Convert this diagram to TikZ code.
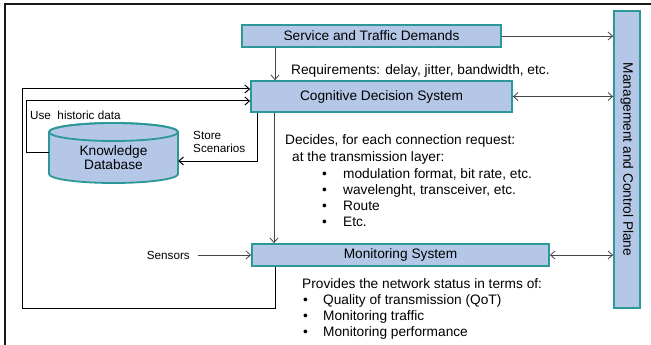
\documentclass[tikz,border=0pt]{standalone}
\usepackage{fontspec}
\setmainfont{Liberation Sans}
\usetikzlibrary{arrows.meta}
\definecolor{boxfill}{RGB}{180,199,231}
\definecolor{boxline}{RGB}{44,152,152}
\definecolor{wirecol}{RGB}{70,70,70}
\newcommand{\bigtext}{\fontsize{13.7pt}{13.4pt}\selectfont}
\newcommand{\smalltext}{\fontsize{11.7pt}{14pt}\selectfont}
\begin{document}
\begin{tikzpicture}[x=1pt,y=-1pt,
  box/.style={draw=boxline, fill=boxfill, line width=1.8pt, inner sep=0pt, font=\bigtext},
  body/.style={anchor=base west, inner sep=0pt, font=\bigtext},
  small/.style={anchor=base west, inner sep=0pt, font=\smalltext},
  tip/.tip={Straight Barb[length=4.5pt,width=8pt]},
  wire/.style={draw=wirecol, line width=0.8pt, -tip},
  wirebi/.style={draw=wirecol, line width=0.8pt, tip-tip},
  loopline/.style={draw=black, line width=1pt, -tip},
]
\useasboundingbox (0,0) rectangle (651,345);
\fill[white] (0,0) rectangle (651,345);
% frame
\draw[line width=2pt, black!90] (5,345) -- (5,4) -- (651,4);

% main blocks
\node[box, minimum width=259pt, minimum height=22pt] (std) at (371.5,36) {Service and Traffic Demands};
\node[box, minimum width=261pt, minimum height=31pt] (cds) at (381.5,96.5) {Cognitive Decision System};
\node[box, minimum width=297pt, minimum height=22pt] (mon) at (400.5,255) {Monitoring System};
\node[box, minimum width=26pt, minimum height=297pt] (mcp) at (627,159.5) {};
\node[rotate=-90, inner sep=0pt, font=\bigtext] (mcptext) at (mcp.center) {Management and Control Plane};

% knowledge database cylinder
\path[fill=boxfill, draw=boxline, line width=1.8pt]
  (49,132) -- (49,174) arc[start angle=180, end angle=360, x radius=64.5pt, y radius=9pt]
  -- (178,132) arc[start angle=0, end angle=180, x radius=64.5pt, y radius=9pt] -- cycle;
\draw[boxline, line width=1.8pt] (113.5,132) ellipse [x radius=64.5pt, y radius=9pt];
\node[inner sep=0pt, minimum width=129pt, align=center, font=\bigtext] (kdb) at (113.5,157.5) {Knowledge\\Database};

% helper coordinates
\coordinate (xa) at (275,0);
\coordinate (xb) at (274,0);
\coordinate (xc) at (257,0);
\coordinate (c1) at (22,308);
\coordinate (c2) at (0,89);
\coordinate (c3) at (26,101);

% connectors
\draw[wire] (std.south -| xa) -- (cds.north -| xa);
\draw[wire] (std.east) -- (std.east -| mcp.west);
\draw[wirebi] (cds.east) -- (cds.east -| mcp.west);
\draw[wirebi] (mon.east) -- (mon.east -| mcp.west);
\draw[wire] (cds.south -| xb) -- (mon.north -| xb);

\node[small, anchor=base east] (sens) at (190,259) {Sensors};
\draw[wire] ([xshift=8pt]sens.east) -- (sens.east -| mon.west);

\draw[loopline] (mon.south -| xa) |- (c1) |- (cds.west |- c2);
\draw[loopline] ([yshift=5.5pt]kdb.west) -| (c3) -- (cds.west |- c3);
\draw[loopline] (cds.south -| xc) |- ([yshift=-3.5pt]kdb.east);

% labels
\node[body] (req) at (291,75) {Requirements: delay, jitter, bandwidth, etc.};
\node[small] (hist) at (30,119.2) {Use\ \ historic data};
\node[small] (st1) at (193,139.2) {Store};
\node[small] (st2) at (193,152.6) {Scenarios};

\node[body] (dec1) at (285,144.5) {Decides, for each connection request:};
\node[body] (dec2) at (292,161.5) {at the transmission layer:};
\foreach \y/\t [count=\i] in {178/{modulation format, bit rate, etc.},
                             194/{wavelenght, transceiver, etc.},
                             210/{Route},
                             226/{Etc.}} {
  \node[body] (db\i) at (322,\y) {\textbullet};
  \node[body] (dt\i) at (343,\y) {\t};
}

\node[body] (prov) at (302,288) {Provides the network status in terms of:};
\foreach \y/\t [count=\i] in {304.5/{Quality of transmission (QoT)},
                             320.5/{Monitoring traffic},
                             336.5/{Monitoring performance}} {
  \node[body] (pb\i) at (303,\y) {\textbullet};
  \node[body] (pt\i) at (323,\y) {\t};
}
\end{tikzpicture}
\end{document}
